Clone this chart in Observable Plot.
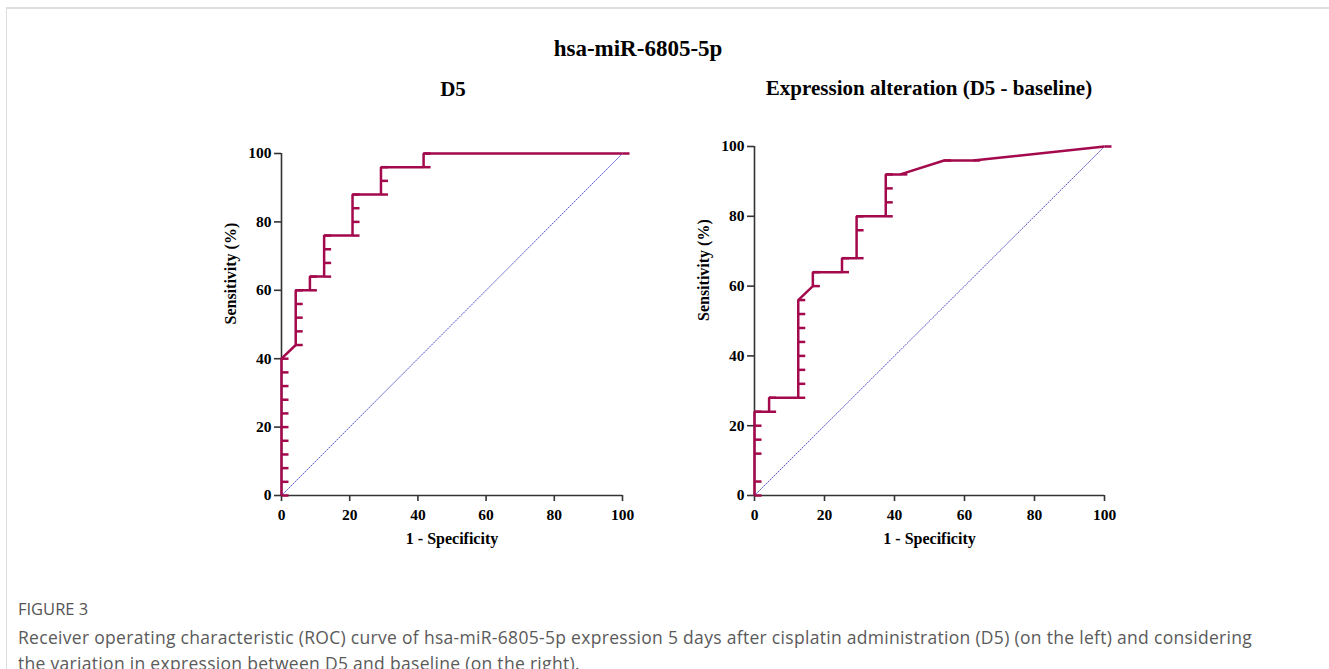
<!DOCTYPE html>
<html><head><meta charset="utf-8">
<script src="https://cdn.jsdelivr.net/npm/d3@7"></script>
<script src="https://cdn.jsdelivr.net/npm/@observablehq/plot@0.6"></script>
<style>
html,body{margin:0;padding:0;background:#fff;}
body{width:1329px;height:669px;overflow:hidden;position:relative;}
#card{position:absolute;left:6px;top:7px;width:1400px;height:700px;border-top:2px solid #dddddd;border-left:1px solid #dddddd;}
.t{position:absolute;font-family:"Liberation Serif","Times New Roman",serif;font-weight:bold;color:#000;transform:translate(-50%,-50%);white-space:nowrap;}
.p{position:absolute;}
#fig{position:absolute;left:18px;top:597px;font-family:"Open Sans",sans-serif;font-size:16.5px;color:#555;}
#cap{position:absolute;left:18px;top:624px;font-family:"Open Sans",sans-serif;font-size:17.5px;line-height:26px;color:#5a5a5a;white-space:nowrap;letter-spacing:0.3px;}
</style></head>
<body>
<div id="card"></div>
<div class="t" style="left:638px;top:49px;font-size:23px;">hsa-miR-6805-5p</div>
<div class="t" style="left:453px;top:89px;font-size:21px;">D5</div>
<div class="t" style="left:929px;top:88px;font-size:21px;">Expression alteration (D5 - baseline)</div>
<div class="p" id="left" style="left:200px;top:130px;"></div>
<div class="p" id="right" style="left:673px;top:120px;"></div>
<div id="fig">FIGURE 3</div>
<div id="cap">Receiver operating characteristic (ROC) curve of hsa-miR-6805-5p expression 5 days after cisplatin administration (D5) (on the left) and considering<br>the variation in expression between D5 and baseline (on the right).</div>
<script>
// Axis ticks
const xTicks = [0, 20, 40, 60, 80, 100];
const yTicks = [0, 20, 40, 60, 80, 100];

// Left panel: D5 (1 - specificity %, sensitivity %)
const d5FPR = [0,0,0,0,0,0,0,0,0,0,0, 4.17,4.17,4.17,4.17,4.17, 8.33,8.33, 12.5,12.5,12.5,12.5, 20.83,20.83,20.83,20.83, 29.17,29.17,29.17, 41.67,41.67, 100];
const d5Sens = [0,4,8,12,16,20,24,28,32,36,40, 44,48,52,56,60, 60,64, 64,68,72,76, 76,80,84,88, 88,92,96, 96,100, 100];

// Right panel: expression alteration (D5 - baseline)
const altFPR = [0,0,0,0,0,0, 4.17,4.17, 12.5,12.5,12.5,12.5,12.5,12.5,12.5,12.5, 16.67,16.67, 25,25, 29.17,29.17,29.17, 37.5,37.5,37.5,37.5, 41.67, 54.17, 62.5, 100];
const altSens = [0,4,12,16,20,24, 24,28, 28,32,36,40,44,48,52,56, 60,64, 64,68, 68,76,80, 80,84,88,92, 92, 96, 96, 100];

// Reference line
const refX = [0, 100];
const refY = [0, 100];

const curveColor = "#a3094c";
const dash = {draw(ctx) { ctx.moveTo(0, 0); ctx.lineTo(7, 0); }};

function roc(fpr, sens, o) {
  const pts = fpr.map((x, i) => ({x, y: sens[i]}));
  const diag = refX.map((x, i) => ({x, y: refY[i]}));
  return Plot.plot({
    width: o.width, height: o.height,
    marginLeft: 81, marginRight: 20, marginTop: o.mt, marginBottom: 60,
    x: {domain: [0, 100]},
    y: {domain: [0, 100]},
    style: {fontFamily: "'Liberation Serif', 'Times New Roman', serif", fontWeight: "bold", fontSize: "15.5px", color: "#222", background: "transparent", overflow: "visible"},
    marks: [
      Plot.line(diag, {x: "x", y: "y", stroke: "#5050cc", strokeWidth: 1, strokeDasharray: "1.2,1.6"}),
      Plot.ruleX([0], {stroke: "#333", strokeWidth: 1.6}),
      Plot.ruleY([0], {stroke: "#333", strokeWidth: 1.6}),
      Plot.axisX({ticks: xTicks, tickSize: 6, tickPadding: 7, label: null, fontSize: 15.5, fontWeight: "bold", stroke: "#333", strokeWidth: 1.6, fill: "#000"}),
      Plot.axisY({ticks: yTicks, tickSize: 7, tickPadding: 3, label: null, fontSize: 15.5, fontWeight: "bold", stroke: "#333", strokeWidth: 1.6, fill: "#000"}),
      Plot.line(pts, {x: "x", y: "y", stroke: curveColor, strokeWidth: 2.5, strokeLinejoin: "miter", strokeLinecap: "butt"}),
      Plot.dot(pts, {x: "x", y: "y", symbol: dash, r: 3, fill: "none", stroke: curveColor, strokeWidth: 2.5}),
      Plot.text(["1 - Specificity"], {frameAnchor: "bottom", dy: 48, fontSize: 16, fontWeight: "bold", fill: "#000"}),
      Plot.text(["Sensitivity (%)"], {frameAnchor: "left", dx: -51, rotate: -90, fontSize: 16, fontWeight: "bold", fill: "#000"})
    ]
  });
}

document.getElementById("left").appendChild(roc(d5FPR, d5Sens, {width: 442, height: 425, mt: 23}));
document.getElementById("right").appendChild(roc(altFPR, altSens, {width: 451, height: 435, mt: 26}));
</script>
</body></html>
